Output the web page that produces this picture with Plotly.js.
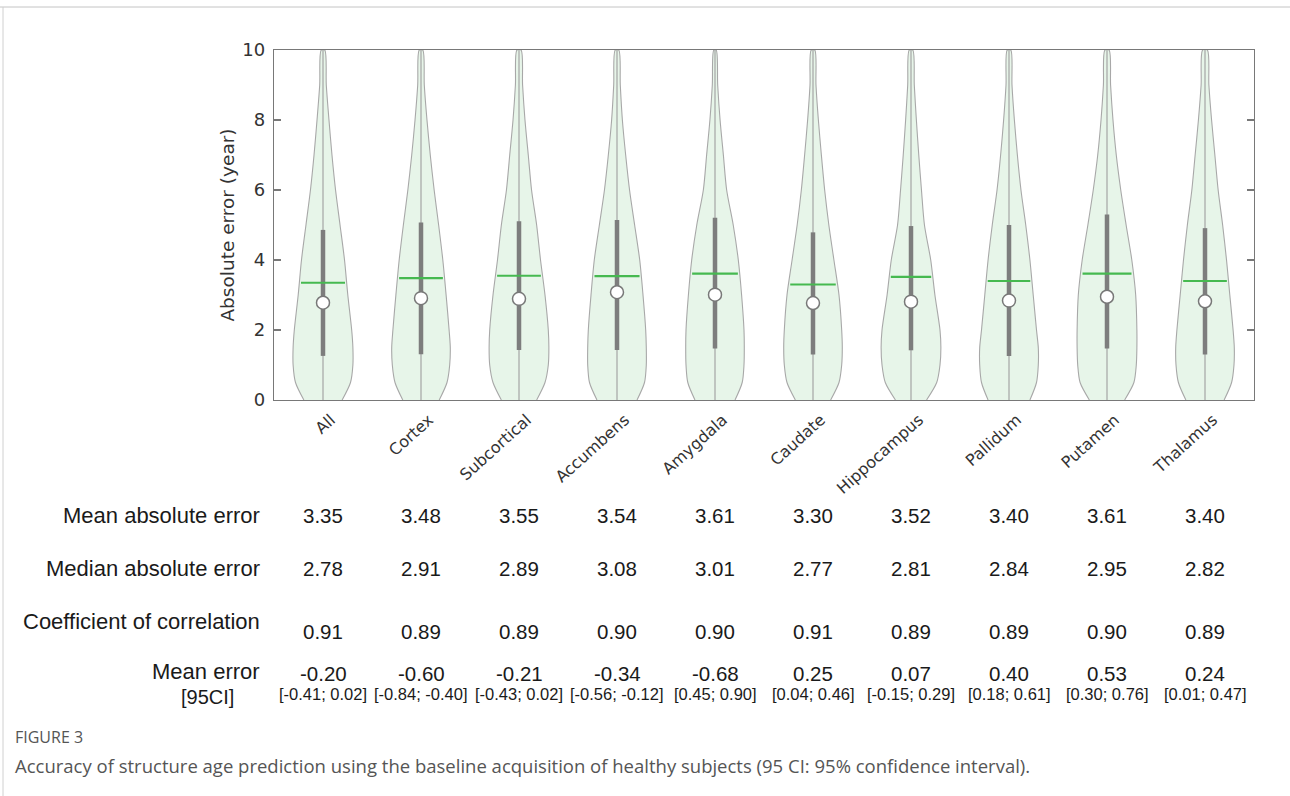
<!DOCTYPE html>
<html>
<head>
<meta charset="utf-8">
<script src="https://cdn.plot.ly/plotly-3.0.1.min.js"></script>
<style>
  html, body { margin: 0; padding: 0; background: #ffffff; }
  #chart { width: 1290px; height: 796px; }
</style>
</head>
<body>
<div id="chart"></div>
<script>
// ---------------- data ----------------
const categories = ['All', 'Cortex', 'Subcortical', 'Accumbens', 'Amygdala', 'Caudate', 'Hippocampus', 'Pallidum', 'Putamen', 'Thalamus'];
const meanAbsErr   = [3.35, 3.48, 3.55, 3.54, 3.61, 3.30, 3.52, 3.40, 3.61, 3.40];
const medianAbsErr = [2.78, 2.91, 2.89, 3.08, 3.01, 2.77, 2.81, 2.84, 2.95, 2.82];
const corrCoef     = [0.91, 0.89, 0.89, 0.90, 0.90, 0.91, 0.89, 0.89, 0.90, 0.89];
const meanErr      = [-0.20, -0.60, -0.21, -0.34, -0.68, 0.25, 0.07, 0.40, 0.53, 0.24];
const ciLow        = [-0.41, -0.84, -0.43, -0.56, 0.45, 0.04, -0.15, 0.18, 0.30, 0.01];
const ciHigh       = [0.02, -0.40, 0.02, -0.12, 0.90, 0.46, 0.29, 0.61, 0.76, 0.47];
// thick inner bar
const barLow  = [1.26, 1.31, 1.43, 1.43, 1.47, 1.30, 1.42, 1.26, 1.47, 1.30];
const barHigh = [4.86, 5.07, 5.11, 5.14, 5.21, 4.79, 4.97, 5.00, 5.30, 4.91];
// violin density profiles (relative width) at these error levels
const densityLevels = [0, 0.5, 1, 1.5, 2, 3, 4, 5, 6, 7, 8, 9, 10];
const densAll         = [0.64, 0.92, 1.00, 1.00, 0.96, 0.83, 0.72, 0.57, 0.42, 0.30, 0.20, 0.11, 0.06];
const densCortex      = [0.61, 0.87, 0.96, 0.98, 0.94, 0.84, 0.73, 0.59, 0.44, 0.31, 0.20, 0.11, 0.06];
const densSubcortical = [0.59, 0.87, 0.98, 1.00, 0.98, 0.87, 0.72, 0.59, 0.42, 0.31, 0.20, 0.12, 0.07];
const densAccumbens   = [0.67, 0.92, 0.98, 0.98, 0.96, 0.87, 0.76, 0.59, 0.42, 0.29, 0.18, 0.11, 0.06];
const densAmygdala    = [0.67, 0.91, 0.97, 0.98, 0.97, 0.89, 0.78, 0.61, 0.39, 0.28, 0.17, 0.09, 0.04];
const densCaudate     = [0.59, 0.87, 0.96, 0.98, 0.96, 0.87, 0.70, 0.53, 0.39, 0.28, 0.18, 0.10, 0.06];
const densHippocampus = [0.52, 0.86, 0.97, 1.00, 0.97, 0.80, 0.66, 0.45, 0.35, 0.26, 0.18, 0.11, 0.06];
const densPallidum    = [0.70, 0.92, 0.98, 0.98, 0.92, 0.81, 0.70, 0.56, 0.40, 0.28, 0.18, 0.10, 0.06];
const densPutamen     = [0.59, 0.90, 0.98, 1.00, 1.00, 0.96, 0.83, 0.64, 0.46, 0.31, 0.20, 0.12, 0.07];
const densThalamus    = [0.64, 0.89, 0.97, 0.98, 0.94, 0.83, 0.72, 0.59, 0.44, 0.33, 0.22, 0.13, 0.08];
const densities = [densAll, densCortex, densSubcortical, densAccumbens, densAmygdala,
                   densCaudate, densHippocampus, densPallidum, densPutamen, densThalamus];

const rowLabels = ['Mean absolute error', 'Median absolute error', 'Coefficient of correlation', 'Mean error', '[95CI]'];
const yTicks = [0, 2, 4, 6, 8, 10];

// ---------------- style ----------------
const HALF = 0.305;                 // max half width of a violin (x units)
const FILL = 'rgb(231,245,233)';
const EDGE = 'rgb(168,168,168)';
const MEANC = 'rgb(70,185,80)';
const BARC = 'rgb(125,125,125)';

// plot area in pixels
const L = 274, R = 1254, T = 50, B = 400;
const xp = px => (px - L) / (R - L);
const yp = py => (B - py) / (B - T);

function interp(levels, vals, v) {
  for (let k = 0; k < levels.length - 1; k++) {
    if (v >= levels[k] && v <= levels[k + 1]) {
      const t = (v - levels[k]) / (levels[k + 1] - levels[k]);
      return vals[k] + t * (vals[k + 1] - vals[k]);
    }
  }
  return vals[vals.length - 1];
}

const traces = [];
categories.forEach((c, i) => {
  const d = densities[i];
  const xs = [], ys = [];
  for (let k = 0; k < densityLevels.length; k++) { xs.push(i - d[k] * HALF); ys.push(densityLevels[k]); }
  for (let k = densityLevels.length - 1; k >= 0; k--) { xs.push(i + d[k] * HALF); ys.push(densityLevels[k]); }
  traces.push({
    x: xs, y: ys, type: 'scatter', mode: 'lines', fill: 'toself', fillcolor: FILL,
    line: { color: EDGE, width: 1.1, shape: 'spline', smoothing: 0.8 }, hoverinfo: 'skip'
  });
  // thin centre line
  traces.push({
    x: [i, i], y: [densityLevels[0], densityLevels[densityLevels.length - 1]],
    type: 'scatter', mode: 'lines', line: { color: 'rgb(165,165,165)', width: 1.2 }, hoverinfo: 'skip'
  });
  // thick bar
  traces.push({
    x: [i, i], y: [barLow[i], barHigh[i]], type: 'scatter', mode: 'lines',
    line: { color: BARC, width: 4.5 }, hoverinfo: 'skip'
  });
  // mean line
  const hw = interp(densityLevels, d, meanAbsErr[i]) * HALF * 0.93;
  traces.push({
    x: [i - hw, i + hw], y: [meanAbsErr[i], meanAbsErr[i]], type: 'scatter', mode: 'lines',
    line: { color: MEANC, width: 2.2 }, hoverinfo: 'skip'
  });
});
// medians
traces.push({
  x: categories.map((c, i) => i), y: medianAbsErr, type: 'scatter', mode: 'markers',
  marker: { size: 13, color: '#ffffff', line: { color: 'rgb(120,120,120)', width: 1.5 } },
  hoverinfo: 'skip'
});

// ---------------- table annotations ----------------
const FAM = 'Liberation Sans, Arial, sans-serif';
const LF = { family: FAM, size: 22, color: '#1a1a1a' };
const TF = { family: FAM, size: 20.5, color: '#1a1a1a' };
const annotations = [];
const labelX = xp(262);
function rowLabel(text, py, xanchor, px, font) {
  annotations.push({ text: text, xref: 'paper', yref: 'paper', x: px === undefined ? labelX : xp(px), y: yp(py),
    xanchor: xanchor || 'right', yanchor: 'middle', showarrow: false, font: font || LF });
}
function rowValues(vals, py, font) {
  vals.forEach((v, i) => annotations.push({ text: v, xref: 'x', yref: 'paper', x: i, y: yp(py),
    xanchor: 'center', yanchor: 'middle', showarrow: false, font: font || TF }));
}
const f2 = v => v.toFixed(2);
rowLabel(rowLabels[0], 515);
rowValues(meanAbsErr.map(f2), 515);
rowLabel(rowLabels[1], 568);
rowValues(medianAbsErr.map(f2), 568);
rowLabel(rowLabels[2], 621);
rowValues(corrCoef.map(f2), 631);
rowLabel(rowLabels[3], 671);
rowValues(meanErr.map(f2), 673);
rowLabel(rowLabels[4], 697, 'center', 207, { family: FAM, size: 20, color: '#1a1a1a' });
rowValues(ciLow.map((lo, i) => '[' + f2(lo) + '; ' + f2(ciHigh[i]) + ']'), 694,
  { family: FAM, size: 16.5, color: '#1a1a1a' });

// caption
annotations.push({ text: 'FIGURE 3', xref: 'paper', yref: 'paper', x: xp(13), y: yp(737),
  xanchor: 'left', yanchor: 'middle', showarrow: false,
  font: { family: 'Open Sans, sans-serif', size: 16, color: '#555555' } });
annotations.push({ text: 'Accuracy of structure age prediction using the baseline acquisition of healthy subjects (95 CI: 95% confidence interval).',
  xref: 'paper', yref: 'paper', x: xp(13), y: yp(765), xanchor: 'left', yanchor: 'middle', showarrow: false,
  font: { family: 'Open Sans, sans-serif', size: 18.5, color: '#555555' } });

const shapes = [
  { type: 'line', xref: 'paper', yref: 'paper', x0: xp(0), x1: xp(1290), y0: yp(7), y1: yp(7),
    line: { color: '#c4c4c4', width: 1 } },
  { type: 'line', xref: 'paper', yref: 'paper', x0: xp(3), x1: xp(3), y0: yp(7), y1: yp(796),
    line: { color: '#d0d0d0', width: 1 } }
];

const layout = {
  width: 1290, height: 796,
  margin: { l: L, r: 1290 - R, t: T, b: 796 - B, pad: 0 },
  paper_bgcolor: '#ffffff', plot_bgcolor: '#ffffff',
  showlegend: false,
  xaxis: {
    range: [-0.5, 9.5], tickmode: 'array', tickvals: categories.map((c, i) => i), ticktext: categories,
    tickangle: -42, ticks: '', showgrid: false, zeroline: false,
    showline: true, mirror: true, linecolor: 'rgb(120,120,120)', linewidth: 1.3,
    tickfont: { family: 'DejaVu Sans, sans-serif', size: 16, color: '#333333' },
    ticklabelshift: 8, ticklabelstandoff: 3, automargin: false, fixedrange: true
  },
  yaxis: {
    range: [0, 10], tickmode: 'array', tickvals: yTicks, ticktext: yTicks.map(String),
    ticks: 'inside', ticklen: 7, tickwidth: 1.2, tickcolor: 'rgb(120,120,120)', mirror: 'ticks',
    showline: true, linecolor: 'rgb(120,120,120)', linewidth: 1.3, showgrid: false, zeroline: false,
    tickfont: { family: 'DejaVu Sans, sans-serif', size: 18, color: '#333333' },
    ticklabelstandoff: 4,
    title: { text: 'Absolute error (year)', font: { family: 'DejaVu Sans, sans-serif', size: 18.5, color: '#333333' }, standoff: 2 },
    automargin: false, fixedrange: true
  },
  annotations: annotations,
  shapes: shapes
};

Plotly.newPlot('chart', traces, layout, { displayModeBar: false, staticPlot: true });
</script>
</body>
</html>
